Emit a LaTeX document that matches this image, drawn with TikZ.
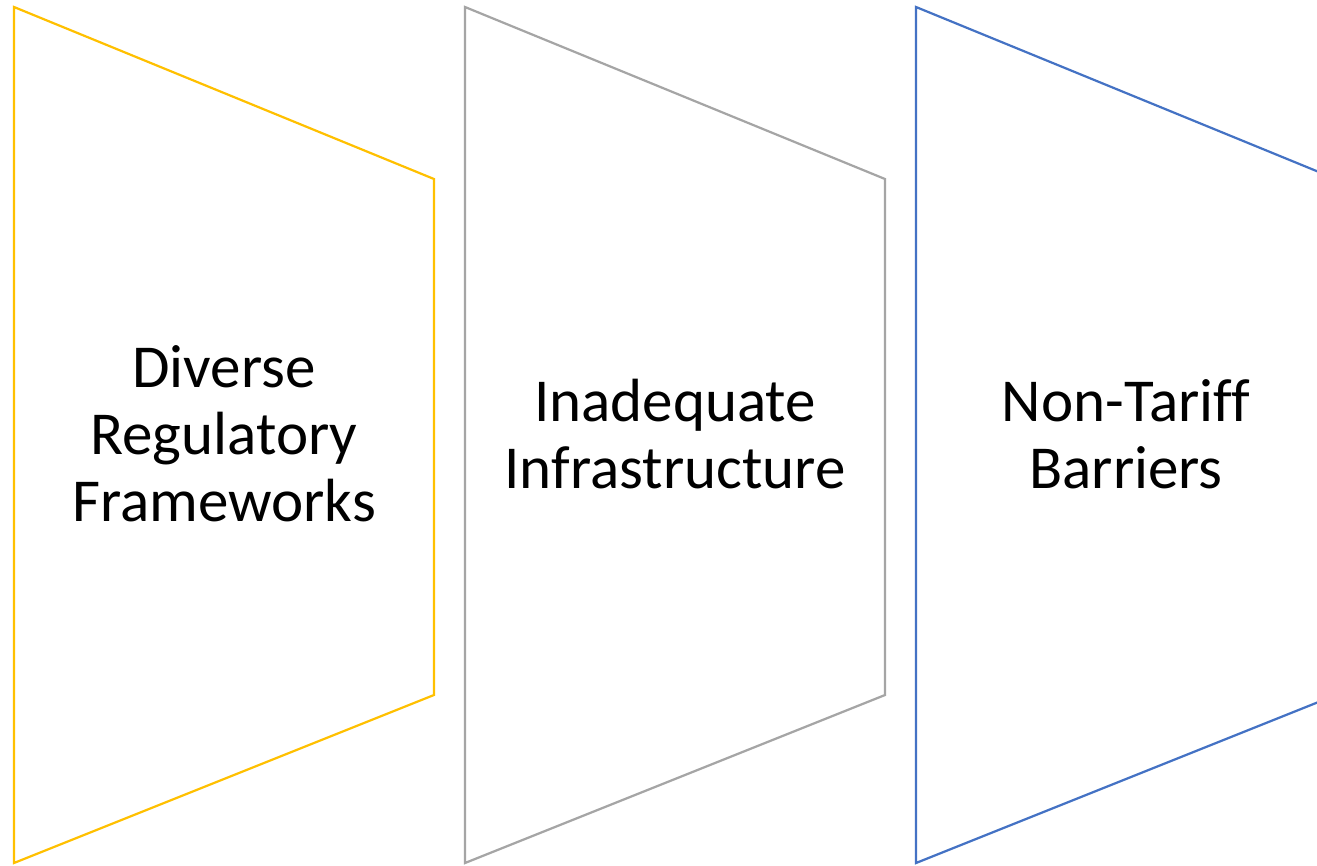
\documentclass[tikz,border=0pt]{standalone}
\usepackage{fontspec}
\setmainfont[Ligatures=NoCommon]{Carlito}
\definecolor{cyellow}{HTML}{FFC000}
\definecolor{cgray}{HTML}{A5A5A5}
\definecolor{cblue}{HTML}{4472C4}
\tikzset{
  chevron/.style={line width=2.2pt, line join=miter},
  label/.style={align=center, font=\fontsize{61}{67}\selectfont, inner sep=0pt, text=black}
}
\begin{document}
\begin{tikzpicture}[x=1pt,y=-1pt]
\useasboundingbox (0,0) rectangle (1317,865);
\clip (0,0) rectangle (1317,865);
\fill[white] (0,0) rectangle (1317,865);
\draw[chevron, cyellow] (14,7) -- (434,179) -- (434,695) -- (14,863) -- cycle;
\draw[chevron, cgray] (465,7) -- (885,179) -- (885,695) -- (465,863) -- cycle;
\draw[chevron, cblue] (916,7) -- (1336,179) -- (1336,695) -- (916,863) -- cycle;
\node[label] (t1) at (224,434) {Diverse\\Regulatory\\Frameworks};
\node[label] (t2) at (675,434) {Inadequate\\Infrastructure};
\node[label] (t3) at (1126,434) {Non-Tariff\\Barriers};
\end{tikzpicture}
\end{document}
